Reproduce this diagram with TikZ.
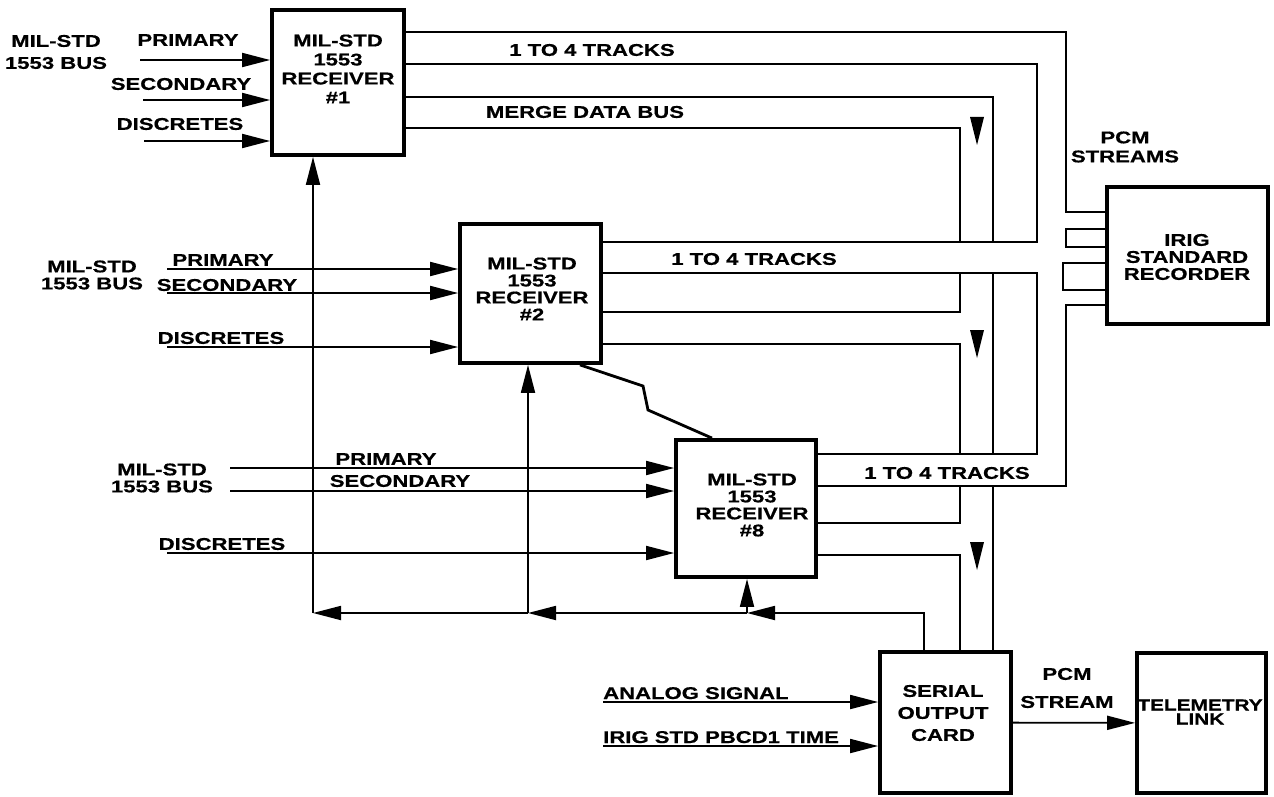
\documentclass[tikz,border=0pt]{standalone}
\usepackage{fontspec}
\newfontfamily\dgmfont[FakeStretch=1.3,FakeBold=0.6]{Liberation Sans}
\usepackage{tikz}
\usetikzlibrary{positioning,arrows.meta}
\tikzset{
  blk/.style={draw,line width=3.8pt},
  lbl/.style={font=\dgmfont\bfseries\fontsize{17}{#1}\selectfont,inner sep=0pt,align=center},
  lbl/.default=17,
  wire/.style={line width=1.8pt},
  flow/.style={wire,-{Triangle[length=28pt,width=14pt]}},
}

\begin{document}
\begin{tikzpicture}[x=1pt,y=-1pt]
  \useasboundingbox (0,0) rectangle (1274,797);
  % blocks
  \node[blk,minimum width=132pt,minimum height=145pt] (rx1) at (338,82.5) {};
  \node[blk,minimum width=141pt,minimum height=139pt] (rx2) at (530.5,293.5) {};
  \node[blk,minimum width=140pt,minimum height=137pt] (rx8) at (746,508.5) {};
  \node[blk,minimum width=161pt,minimum height=137pt] (rec) at (1187.5,255.5) {};
  \node[blk,minimum width=131pt,minimum height=141pt] (soc) at (945.5,722.5) {};
  \node[blk,minimum width=129pt,minimum height=140pt] (tlm) at (1201.5,723) {};
  \node[lbl=19] (rx1t) at (338,69) {MIL-STD\\1553\\RECEIVER\\\#1};
  \node[lbl] (rx2t) at (532,289) {MIL-STD\\1553\\RECEIVER\\\#2};
  \node[lbl] (rx8t) at (752,505) {MIL-STD\\1553\\RECEIVER\\\#8};
  \node[lbl] (rect) at (1187,257) {IRIG\\STANDARD\\RECORDER};
  \node[lbl=22] (soct) at (943,713) {SERIAL\\OUTPUT\\CARD};
  \node[lbl=14,font=\dgmfont\bfseries\fontsize{16}{14}\selectfont] (tlmt) at (1200,712) {TELEMETRY\\LINK};

  % bus inputs
  \coordinate (p1) at (140,60); \coordinate (s1) at (143,100); \coordinate (d1) at (144,141);
  \coordinate (p2) at (167,269); \coordinate (s2) at (167,293); \coordinate (d2) at (167,347);
  \coordinate (p8) at (230,468); \coordinate (s8) at (230,491); \coordinate (d8) at (167,553);
  \foreach \c in {p1,s1,d1} \draw[flow] (\c) -- (rx1.west |- \c);
  \foreach \c in {p2,s2,d2} \draw[flow] (\c) -- (rx2.west |- \c);
  \foreach \c in {p8,s8,d8} \draw[flow] (\c) -- (rx8.west |- \c);
  \node[lbl=22] (bus1) at (56,52) {MIL-STD\\1553 BUS};
  \node[lbl] (pri1) at (188,40) {PRIMARY};
  \node[lbl] (sec1) at (181,84) {SECONDARY};
  \node[lbl] (dis1) at (180,124) {DISCRETES};
  \node[lbl] (bus2) at (92,275) {MIL-STD\\1553 BUS};
  \node[lbl] (pri2) at (223,260) {PRIMARY};
  \node[lbl] (sec2) at (227,285) {SECONDARY};
  \node[lbl] (dis2) at (221,338) {DISCRETES};
  \node[lbl] (bus8) at (162,478) {MIL-STD\\1553 BUS};
  \node[lbl] (pri8) at (386,459) {PRIMARY};
  \node[lbl] (sec8) at (400,481) {SECONDARY};
  \node[lbl] (dis8) at (222,544) {DISCRETES};

  % track and merge buses
  \draw[wire] (rx1.east |- 0,32) -| (1066,212) -- (rec.west |- 0,212);
  \draw[wire] (rx1.east |- 0,64) -| (1037,242) -- (rx2.east |- 0,242);
  \draw[wire] (rx1.east |- 0,97) -| (993,242);
  \draw[wire] (rx1.east |- 0,128) -| (960,242);
  \draw[wire] (rx2.east |- 0,273) -| (1037,454) -- (rx8.east |- 0,454);
  \draw[wire] (rx2.east |- 0,312) -| (960,273);
  \draw[wire] (rx2.east |- 0,344) -| (960,454);
  \draw[wire] (993,273) -- (993,454);
  \draw[wire] (rx8.east |- 0,486) -| (1066,305) -- (rec.west |- 0,305);
  \draw[wire] (rx8.east |- 0,523) -| (960,486);
  \draw[wire] (rx8.east |- 0,555) -| (soc.north -| 960,0);
  \draw[wire] (993,486) -- (soc.north -| 993,0);
  \draw[wire] (rec.west |- 0,229) -| (1066,247) -- (rec.west |- 0,247);
  \draw[wire] (rec.west |- 0,263) -| (1063,290) -- (rec.west |- 0,290);
  \foreach \y in {117,330,542} \fill (970,\y) -- (984,\y) -- (977,\y+28) -- cycle;
  \node[lbl] (trk1) at (592,50) {1 TO 4 TRACKS};
  \node[lbl] (mrg) at (585,112) {MERGE DATA BUS};
  \node[lbl] (trk2) at (754,259) {1 TO 4 TRACKS};
  \node[lbl] (trk8) at (947,473) {1 TO 4 TRACKS};
  \node[lbl=19] (pcms) at (1125,147) {PCM\\STREAMS};

  % link between receivers
  \draw[line width=2.8pt] (rx2.south -| 580,0) -- (643,386) -- (648,410) -- (rx8.north -| 712,0);

  % time / sync return
  \coordinate (fb1) at (313,613); \coordinate (fb2) at (528,613); \coordinate (fb8) at (747,613);
  \draw[flow] (soc.north -| 924,0) |- (fb8);
  \draw[flow] (fb8) -- (fb2);
  \draw[flow] (fb2) -- (fb1);
  \draw[flow] (fb1) -- (rx1.south -| fb1);
  \draw[flow] (fb2) -- (rx2.south -| fb2);
  \draw[flow] (fb8) -- (rx8.south -| fb8);

  % card inputs and output
  \coordinate (an) at (603,702); \coordinate (ir) at (603,746);
  \draw[flow] (an) -- (soc.west |- an);
  \draw[flow] (ir) -- (soc.west |- ir);
  \node[lbl,anchor=base west] (anl) at (603,699) {ANALOG SIGNAL};
  \node[lbl,anchor=base west] (irl) at (603,743) {IRIG STD PBCD1 TIME};
  \draw[flow] (soc) -- (tlm);
  \node[lbl=28] (pcm) at (1067,688) {PCM\\STREAM};
\end{tikzpicture}
\end{document}
